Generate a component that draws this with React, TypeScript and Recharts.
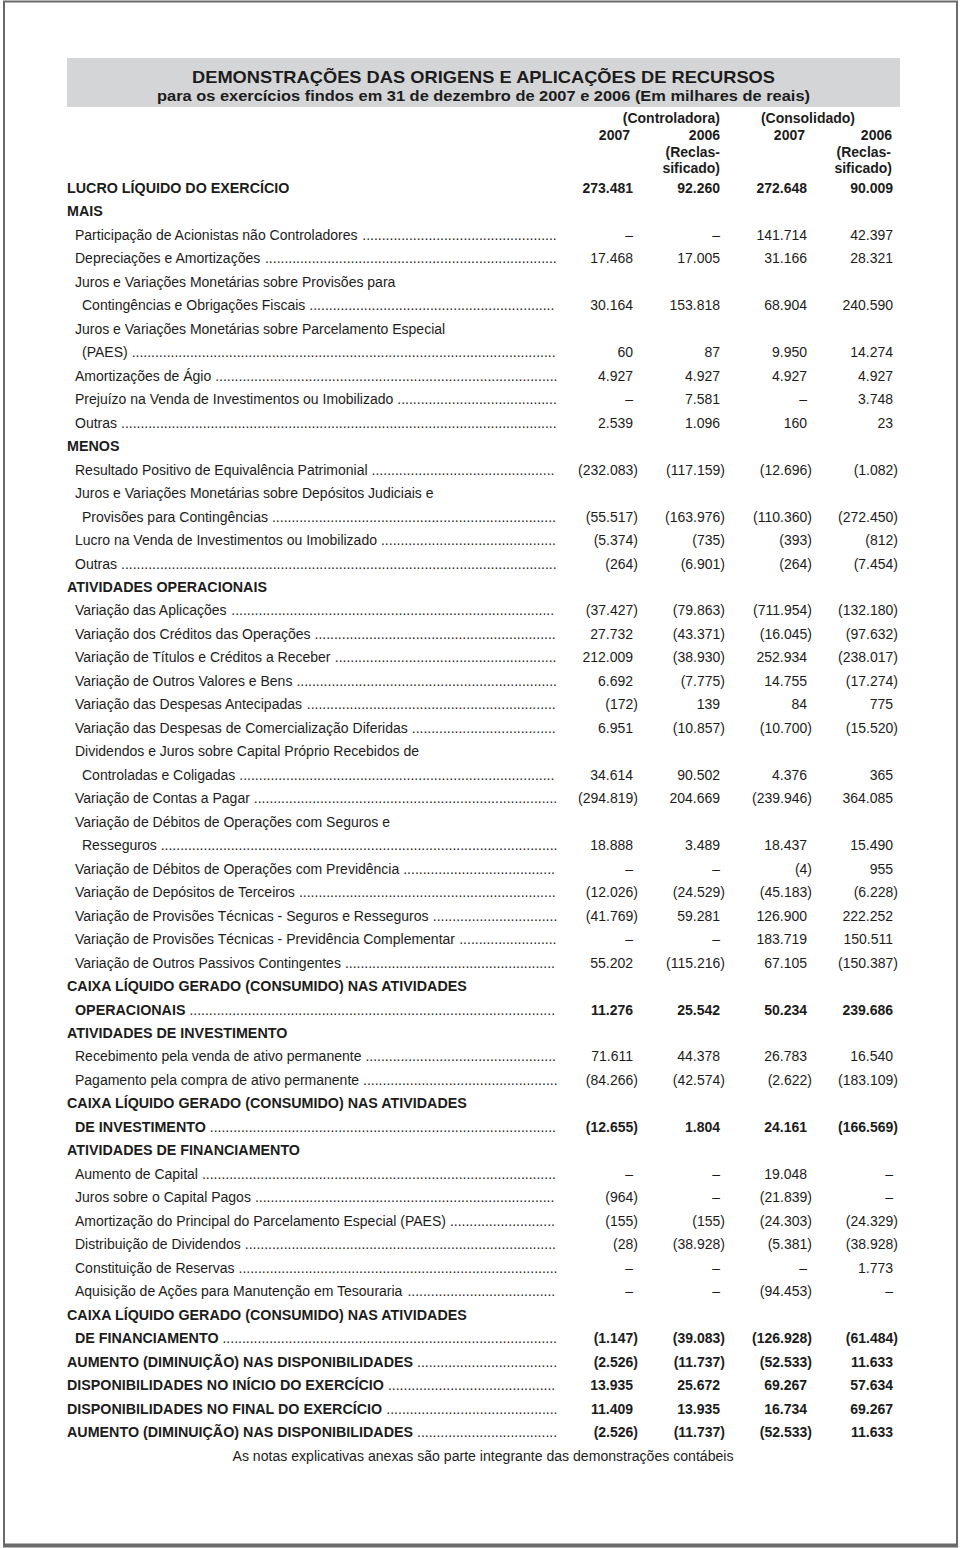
import { ScatterChart, Scatter, XAxis, YAxis, Customized } from 'recharts';

const FONT = "'Liberation Sans', Arial, Helvetica, sans-serif";
const INK = '#1c1c1c';

// blank cell
const _ = undefined;

const labels = [
  'LUCRO LÍQUIDO DO EXERCÍCIO',
  'MAIS',
  'Participação de Acionistas não Controladores',
  'Depreciações e Amortizações',
  'Juros e Variações Monetárias sobre Provisões para',
  'Contingências e Obrigações Fiscais',
  'Juros e Variações Monetárias sobre Parcelamento Especial',
  '(PAES)',
  'Amortizações de Ágio',
  'Prejuízo na Venda de Investimentos ou Imobilizado',
  'Outras',
  'MENOS',
  'Resultado Positivo de Equivalência Patrimonial',
  'Juros e Variações Monetárias sobre Depósitos Judiciais e',
  'Provisões para Contingências',
  'Lucro na Venda de Investimentos ou Imobilizado',
  'Outras',
  'ATIVIDADES OPERACIONAIS',
  'Variação das Aplicações',
  'Variação dos Créditos das Operações',
  'Variação de Títulos e Créditos a Receber',
  'Variação de Outros Valores e Bens',
  'Variação das Despesas Antecipadas',
  'Variação das Despesas de Comercialização Diferidas',
  'Dividendos e Juros sobre Capital Próprio Recebidos de',
  'Controladas e Coligadas',
  'Variação de Contas a Pagar',
  'Variação de Débitos de Operações com Seguros e',
  'Resseguros',
  'Variação de Débitos de Operações com Previdência',
  'Variação de Depósitos de Terceiros',
  'Variação de Provisões Técnicas - Seguros e Resseguros',
  'Variação de Provisões Técnicas - Previdência Complementar',
  'Variação de Outros Passivos Contingentes',
  'CAIXA LÍQUIDO GERADO (CONSUMIDO) NAS ATIVIDADES',
  'OPERACIONAIS',
  'ATIVIDADES DE INVESTIMENTO',
  'Recebimento pela venda de ativo permanente',
  'Pagamento pela compra de ativo permanente',
  'CAIXA LÍQUIDO GERADO (CONSUMIDO) NAS ATIVIDADES',
  'DE INVESTIMENTO',
  'ATIVIDADES DE FINANCIAMENTO',
  'Aumento de Capital',
  'Juros sobre o Capital Pagos',
  'Amortização do Principal do Parcelamento Especial (PAES)',
  'Distribuição de Dividendos',
  'Constituição de Reservas',
  'Aquisição de Ações para Manutenção em Tesouraria',
  'CAIXA LÍQUIDO GERADO (CONSUMIDO) NAS ATIVIDADES',
  'DE FINANCIAMENTO',
  'AUMENTO (DIMINUIÇÃO) NAS DISPONIBILIDADES',
  'DISPONIBILIDADES NO INÍCIO DO EXERCÍCIO',
  'DISPONIBILIDADES NO FINAL DO EXERCÍCIO',
  'AUMENTO (DIMINUIÇÃO) NAS DISPONIBILIDADES',
];

// 0 = heading, 1 = item, 2 = continuation line
const indentLevels = [
  0, 0, 1, 1, 1, 2, 1, 2, 1, 1, 1, 0, 1, 1, 2, 1, 1, 0, 1, 1, 1, 1, 1, 1, 1, 2, 1,
  1, 2, 1, 1, 1, 1, 1, 0, 1, 0, 1, 1, 0, 1, 0, 1, 1, 1, 1, 1, 1, 0, 1, 0, 0, 0, 0,
];

const boldRows = [0, 1, 11, 17, 34, 35, 36, 39, 40, 41, 48, 49, 50, 51, 52, 53];
const noLeaderRows = [0];

// thousands of reais; null = "–"
const ctrl2007 = [
  273481, _, null, 17468, _, 30164, _, 60, 4927, null, 2539, _, -232083, _, -55517, -5374, -264, _,
  -37427, 27732, 212009, 6692, -172, 6951, _, 34614, -294819, _, 18888, null, -12026, -41769, null, 55202,
  _, 11276, _, 71611, -84266, _, -12655, _, null, -964, -155, -28, null, null, _, -1147,
  -2526, 13935, 11409, -2526,
];
const ctrl2006 = [
  92260, _, null, 17005, _, 153818, _, 87, 4927, 7581, 1096, _, -117159, _, -163976, -735, -6901, _,
  -79863, -43371, -38930, -7775, 139, -10857, _, 90502, 204669, _, 3489, null, -24529, 59281, null, -115216,
  _, 25542, _, 44378, -42574, _, 1804, _, null, null, -155, -38928, null, null, _, -39083,
  -11737, 25672, 13935, -11737,
];
const cons2007 = [
  272648, _, 141714, 31166, _, 68904, _, 9950, 4927, null, 160, _, -12696, _, -110360, -393, -264, _,
  -711954, -16045, 252934, 14755, 84, -10700, _, 4376, -239946, _, 18437, -4, -45183, 126900, 183719, 67105,
  _, 50234, _, 26783, -2622, _, 24161, _, 19048, -21839, -24303, -5381, null, -94453, _, -126928,
  -52533, 69267, 16734, -52533,
];
const cons2006 = [
  90009, _, 42397, 28321, _, 240590, _, 14274, 4927, 3748, 23, _, -1082, _, -272450, -812, -7454, _,
  -132180, -97632, -238017, -17274, 775, -15520, _, 365, 364085, _, 15490, 955, -6228, 222252, 150511, -150387,
  _, 239686, _, 16540, -183109, _, -166569, _, null, null, -24329, -38928, 1773, null, _, -61484,
  11633, 57634, 69267, 11633,
];

const INDENT_X = [67, 75, 82];
const COL_RIGHT = [633, 720, 807, 893];
const PAREN_HANG = 5;
const LEADER_END = 558;
const SIZE = 14;
const BOLD_SIZE = 14.3;

const fmt = (v: number | null) => {
  if (v === null) return '–';
  const s = String(Math.abs(v)).replace(/\B(?=(\d{3})+(?!\d))/g, '.');
  return v < 0 ? `(${s})` : s;
};

let ctx: CanvasRenderingContext2D | null = null;
const measure = (s: string, bold: boolean, size: number) => {
  if (!ctx) ctx = document.createElement('canvas').getContext('2d');
  if (!ctx) return s.length * size * 0.5;
  ctx.font = `${bold ? 'bold ' : ''}${size}px 'Liberation Sans'`;
  return ctx.measureText(s).width;
};

const rows = labels.map((label, i) => ({
  row: i,
  x: INDENT_X[indentLevels[i]],
  label,
  bold: boldRows.includes(i),
  leader: !noLeaderRows.includes(i) && ctrl2007[i] !== undefined,
}));

const columns = [ctrl2007, ctrl2006, cons2007, cons2006].map((vals, c) =>
  vals
    .map((v, i) => ({ row: i, x: COL_RIGHT[c], v, bold: boldRows.includes(i) }))
    .filter((d) => d.v !== undefined)
);

function LabelShape(p: any) {
  const d = p.payload;
  const size = d.bold ? BOLD_SIZE : SIZE;
  let dots = '';
  let start = 0;
  if (d.leader) {
    start = p.cx + measure(d.label, d.bold, size) + 4;
    const n = Math.max(0, Math.floor((LEADER_END - start) / measure('.', false, SIZE)));
    dots = '.'.repeat(n);
  }
  return (
    <g>
      <text x={p.cx} y={p.cy + 5} fontFamily={FONT} fontSize={size} fontWeight={d.bold ? 'bold' : 'normal'} fill={INK}>
        {d.label}
      </text>
      {dots && (
        <text x={start} y={p.cy + 5} fontFamily={FONT} fontSize={SIZE} fill={INK}>
          {dots}
        </text>
      )}
    </g>
  );
}

function ValueShape(p: any) {
  const d = p.payload;
  const neg = d.v !== null && d.v < 0;
  return (
    <text
      x={p.cx + (neg ? PAREN_HANG : 0)}
      y={p.cy + 5}
      textAnchor="end"
      fontFamily={FONT}
      fontSize={SIZE}
      fontWeight={d.bold ? 'bold' : 'normal'}
      fill={INK}
    >
      {fmt(d.v)}
    </text>
  );
}

function Frame() {
  const hdr = { fontFamily: FONT, fontSize: 14, fontWeight: 'bold' as const, fill: INK, textAnchor: 'end' as const };
  return (
    <g>
      <rect x={4} y={1.5} width={953} height={1543} fill="none" stroke="#6b6b6b" strokeWidth={2} />
      <line x1={3} x2={958} y1={1546} y2={1546} stroke="#6b6b6b" strokeWidth={3} />
      <rect x={67} y={58} width={833} height={49} fill="#d4d5d7" />
      <text x={483.5} y={83} textAnchor="middle" fontFamily={FONT} fontSize={17} fontWeight="bold" fill={INK}
        textLength={583} lengthAdjust="spacingAndGlyphs">
        DEMONSTRAÇÕES DAS ORIGENS E APLICAÇÕES DE RECURSOS
      </text>
      <text x={483.5} y={101} textAnchor="middle" fontFamily={FONT} fontSize={15} fontWeight="bold" fill={INK}
        textLength={653} lengthAdjust="spacingAndGlyphs">
        para os exercícios findos em 31 de dezembro de 2007 e 2006 (Em milhares de reais)
      </text>
      <text {...hdr} x={720} y={123}>(Controladora)</text>
      <text {...hdr} x={855} y={123}>(Consolidado)</text>
      <text {...hdr} x={630} y={140}>2007</text>
      <text {...hdr} x={720} y={140}>2006</text>
      <text {...hdr} x={805} y={140}>2007</text>
      <text {...hdr} x={892} y={140}>2006</text>
      <text {...hdr} x={720} y={157}>(Reclas-</text>
      <text {...hdr} x={891} y={157}>(Reclas-</text>
      <text {...hdr} x={720} y={173}>sificado)</text>
      <text {...hdr} x={892} y={173}>sificado)</text>
      <text x={483} y={1461} textAnchor="middle" fontFamily={FONT} fontSize={14} fill={INK}
        textLength={501} lengthAdjust="spacingAndGlyphs">
        As notas explicativas anexas são parte integrante das demonstrações contábeis
      </text>
    </g>
  );
}

export default function App() {
  return (
    <div style={{ width: 960, height: 1548, background: '#fff' }}>
      <style>{'body{margin:0}'}</style>
      <ScatterChart width={960} height={1548} margin={{ top: 188, right: 0, bottom: 116, left: 0 }}>
        <XAxis type="number" dataKey="x" domain={[0, 960]} hide />
        <YAxis type="number" dataKey="row" domain={[0, labels.length - 1]} reversed hide />
        <Customized component={Frame} />
        <Scatter data={rows} shape={LabelShape} isAnimationActive={false} />
        {columns.map((data, c) => (
          <Scatter key={c} data={data} shape={ValueShape} isAnimationActive={false} />
        ))}
      </ScatterChart>
    </div>
  );
}
